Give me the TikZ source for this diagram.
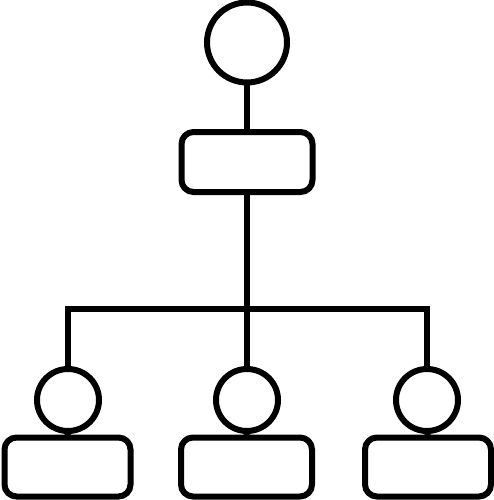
\documentclass[tikz,border=0pt]{standalone}
\begin{document}
\begin{tikzpicture}[x=1pt,y=-1pt,
  shp/.style={draw=black,line width=6pt,fill=white,inner sep=0pt,outer sep=0pt},
  circ/.style={shp,circle,minimum size=#1},
  box/.style={shp,rectangle,rounded corners=12pt,minimum width=#1,minimum height=59pt},
  conn/.style={draw=black,line width=6pt,line join=miter}]
\useasboundingbox (0,0) rectangle (494,500);
% top
\node[circ=80pt] (top) at (247,42.5) {};
\node[box=131pt,minimum height=60pt] (r0) at (247,162) {};
% level 2
\node[circ=62pt] (c1) at (68,400) {};
\node[circ=62pt] (c2) at (247,400) {};
\node[circ=62pt] (c3) at (427,400) {};
\node[box=126pt] (b1) at (67.5,467) {};
\node[box=131pt] (b2) at (246.5,467) {};
\node[box=126pt] (b3) at (428,467) {};
\coordinate (bl) at (68,309);
\coordinate (br) at (427,309);
% connectors
\draw[conn] (top.south) -- (r0.north);
\draw[conn] (r0.south) -- (c2.north);
\draw[conn] (c1.north) -- (bl) -- (br) -- (c3.north);
\draw[conn] (c1.south) -- (b1.north);
\draw[conn] (c2.south) -- (b2.north);
\draw[conn] (c3.south) -- (b3.north);
\end{tikzpicture}
\end{document}
